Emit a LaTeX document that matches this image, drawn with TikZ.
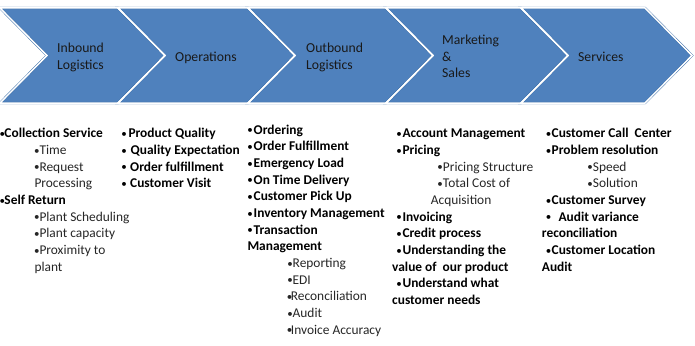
\documentclass[tikz,border=0pt]{standalone}
\usepackage{fontspec}
\setmainfont{Carlito}
\definecolor{chevblue}{HTML}{4F81BD}
\definecolor{chevdark}{HTML}{4172AA}
\newcommand\bu[1]{\makebox[0pt][l]{\hspace{1.6pt}\makebox[0pt]{\raisebox{0.5pt}{\fontsize{11}{11}\mdseries•}}}\hspace{#1pt}}
\begin{document}
\begin{tikzpicture}[x=1pt,y=-1pt,
  hdr/.style={inner sep=0pt,anchor=base west,font=\fontsize{13.7}{16}\selectfont,text=black!90},
  txt/.style={inner sep=0pt,anchor=base west,font=\fontsize{13.4}{16}\selectfont\bfseries,text=black},
  sub/.style={inner sep=0pt,anchor=base west,font=\fontsize{13.4}{16}\selectfont,text=black!85},
  chevfill/.style={fill=chevblue,draw=chevdark,line width=2.4pt,line join=miter},
  chevline/.style={draw=white,line width=1.5pt,line join=miter}]
\useasboundingbox (0,0) rectangle (695,345);
% chevrons
\def\chevA{(0,8) -- (118,8) -- (165,55.5) -- (118,103) -- (0,103) -- (47,55.5) -- cycle}
\def\chevB{(118,8) -- (248,8) -- (295,55.5) -- (248,103) -- (118,103) -- (165,55.5) -- cycle}
\def\chevC{(248,8) -- (386,8) -- (433,55.5) -- (386,103) -- (248,103) -- (295,55.5) -- cycle}
\def\chevD{(386,8) -- (521,8) -- (568,55.5) -- (521,103) -- (386,103) -- (433,55.5) -- cycle}
\def\chevE{(521,8) -- (645,8) -- (692,55.5) -- (645,103) -- (521,103) -- (568,55.5) -- cycle}
\foreach \c in {\chevA,\chevB,\chevC,\chevD,\chevE}{\path[chevfill] \c;}
\foreach \c in {\chevA,\chevB,\chevC,\chevD,\chevE}{\path[chevline] \c;}
% headers
\node[hdr] (h1a) at (57,52.5) {Inbound};
\node[hdr] (h1b) at (57,69.2) {Logistics};
\node[hdr] (h2) at (175,61.2) {Operations};
\node[hdr] (h3a) at (306,52.5) {Outbound};
\node[hdr] (h3b) at (306,69.2) {Logistics};
\node[hdr] (h4a) at (442,44.5) {Marketing};
\node[hdr] (h4b) at (442,61.2) {\&};
\node[hdr] (h4c) at (442,77.8) {Sales};
\node[hdr] (h5) at (578,61.2) {Services};
% column 1
\node[txt] (a1) at (0.5,137.8) {\bu{3.8}Collection Service};
\node[sub] (a2) at (35,154.5) {\bu{4.3}Time};
\node[sub] (a3) at (35,171.1) {\bu{4.3}Request};
\node[sub] (a4) at (34.3,187.8) {Processing};
\node[txt] (a5) at (0.5,204.5) {\bu{3.8}Self Return};
\node[sub] (a6) at (35,221.1) {\bu{4.3}Plant Scheduling};
\node[sub] (a7) at (35,237.8) {\bu{4.3}Plant capacity};
\node[sub] (a8) at (35,254.5) {\bu{4.3}Proximity to};
\node[sub] (a9) at (34.3,271.1) {plant};
% column 2
\node[txt] (b1) at (122.3,137.8) {\bu{6}Product Quality};
\node[txt] (b2) at (122.3,154.5) {\bu{8.2}Quality Expectation};
\node[txt] (b3) at (122.3,171.1) {\bu{7.7}Order fulfillment};
\node[txt] (b4) at (122.3,187.8) {\bu{7.7}Customer Visit};
% column 3
\node[txt] (c1) at (248.3,134.2) {\bu{5.2}Ordering};
\node[txt] (c2) at (248.3,150.9) {\bu{5.2}Order Fulfillment};
\node[txt] (c3) at (248.3,167.5) {\bu{5.2}Emergency Load};
\node[txt] (c4) at (248.3,184.2) {\bu{5.2}On Time Delivery};
\node[txt] (c5) at (248.3,200.9) {\bu{5.2}Customer Pick Up};
\node[txt] (c6) at (248.3,217.5) {\bu{5.2}Inventory Management};
\node[txt] (c7) at (248.3,234.2) {\bu{5.2}Transaction};
\node[txt] (c8) at (247.3,250.9) {Management};
\node[sub] (c9) at (288.3,267.5) {\bu{4.2}Reporting};
\node[sub] (c10) at (288.3,284.2) {\bu{4.2}EDI};
\node[sub] (c11) at (287.7,300.9) {\bu{3}Reconciliation};
\node[sub] (c12) at (288.3,317.5) {\bu{4.2}Audit};
\node[sub] (c13) at (287.7,334.2) {\bu{3}Invoice Accuracy};
% column 4
\node[txt] (d1) at (397.3,137.8) {\bu{5}Account Management};
\node[txt] (d2) at (397.3,154.5) {\bu{5}Pricing};
\node[sub] (d3) at (438.3,171.1) {\bu{4.4}Pricing Structure};
\node[sub] (d4) at (438.3,187.8) {\bu{4.4}Total Cost of};
\node[sub] (d5) at (430.7,204.5) {Acquisition};
\node[txt] (d6) at (397.3,221.1) {\bu{5}Invoicing};
\node[txt] (d7) at (397.3,237.8) {\bu{5}Credit process};
\node[txt] (d8) at (397.3,254.5) {\bu{5}Understanding the};
\node[txt] (d9) at (392,271.1) {value of\ \ our product};
\node[txt] (d10) at (397.3,287.8) {\bu{5}Understand what};
\node[txt] (d11) at (392,304.5) {customer needs};
% column 5
\node[txt] (e1) at (546.7,137.8) {\bu{4.8}Customer Call\ \ Center};
\node[txt] (e2) at (546.7,154.5) {\bu{4.8}Problem resolution};
\node[sub] (e3) at (588.3,171.1) {\bu{4.4}Speed};
\node[sub] (e4) at (588.3,187.8) {\bu{4.4}Solution};
\node[txt] (e5) at (546.7,204.5) {\bu{4.8}Customer Survey};
\node[txt] (e6) at (546.7,221.1) {\bu{11.6}Audit variance};
\node[txt] (e7) at (541.7,237.8) {reconciliation};
\node[txt] (e8) at (546.7,254.5) {\bu{4.8}Customer Location};
\node[txt] (e9) at (541.7,271.1) {Audit};
\end{tikzpicture}
\end{document}
